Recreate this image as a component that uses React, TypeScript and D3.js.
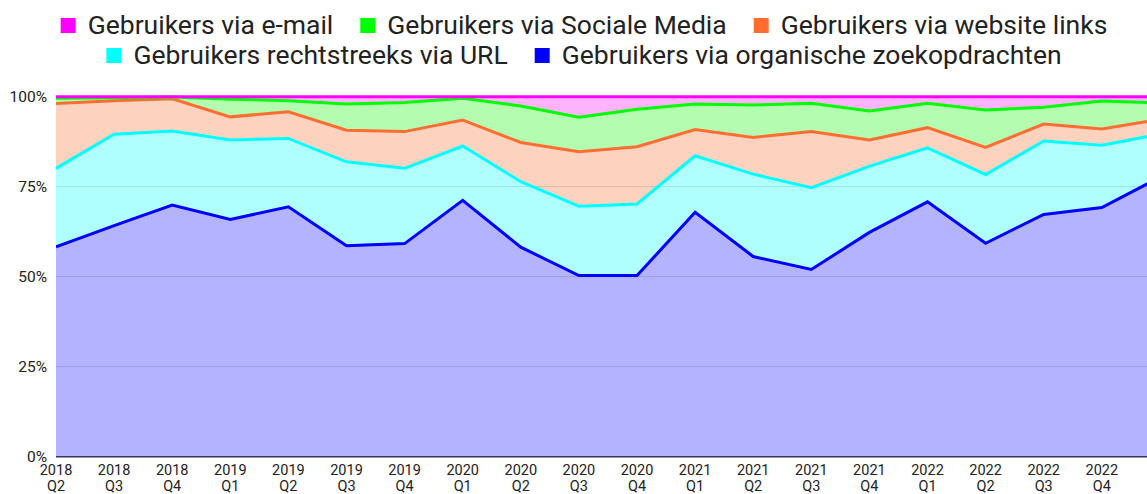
import React, { useEffect, useRef } from "react";
import * as d3 from "d3";

const W = 1147;
const H = 494;

// quarters; the last one lies just past the right edge of the picture
const quarters = [
  "2018 Q2", "2018 Q3", "2018 Q4", "2019 Q1", "2019 Q2", "2019 Q3", "2019 Q4",
  "2020 Q1", "2020 Q2", "2020 Q3", "2020 Q4", "2021 Q1", "2021 Q2", "2021 Q3",
  "2021 Q4", "2022 Q1", "2022 Q2", "2022 Q3", "2022 Q4", "2023 Q1",
];
const tickQuarters = quarters.slice(0, 19);

// share of users per channel (%)
const organic = [58.3, 64.2, 69.9, 65.9, 69.4, 58.6, 59.2, 71.2, 58.2, 50.3, 50.3, 67.9, 55.6, 52.0, 62.3, 70.8, 59.3, 67.3, 69.2, 77.6];
const direct = [21.8, 25.4, 20.6, 22.1, 19.0, 23.3, 20.9, 15.1, 18.2, 19.3, 19.9, 15.7, 22.9, 22.7, 18.4, 15.0, 19.1, 20.4, 17.3, 12.0];
const links = [18.0, 9.3, 8.9, 6.4, 7.4, 8.8, 10.2, 7.2, 10.9, 15.1, 15.9, 7.3, 10.2, 15.6, 7.3, 5.6, 7.5, 4.7, 4.5, 4.1];
const social = [1.5, 0.8, 0.5, 4.9, 3.1, 7.3, 8.1, 6.1, 10.1, 9.6, 10.4, 7.1, 9.0, 7.9, 8.0, 6.8, 10.4, 4.7, 7.8, 4.6];
const email = [0.4, 0.3, 0.1, 0.7, 1.1, 2.0, 1.6, 0.4, 2.6, 5.7, 3.5, 2.0, 2.3, 1.8, 4.0, 1.8, 3.7, 2.9, 1.2, 1.7];

const yTicks = [0, 0.25, 0.5, 0.75, 1];

// bottom to top
const series = [
  { key: "organic", name: "Gebruikers via organische zoekopdrachten", color: "#0000ff", fill: "#b3b3ff", values: organic },
  { key: "direct", name: "Gebruikers rechtstreeks via URL", color: "#00ffff", fill: "#b0ffff", values: direct },
  { key: "links", name: "Gebruikers via website links", color: "#ff6d31", fill: "#fdd3c0", values: links },
  { key: "social", name: "Gebruikers via Sociale Media", color: "#00ff00", fill: "#b4fcb0", values: social },
  { key: "email", name: "Gebruikers via e-mail", color: "#ff00ff", fill: "#ffb3ff", values: email },
];

const legendRows = [
  ["email", "social", "links"],
  ["direct", "organic"],
];

const margin = { left: 56, top: 96.7, bottom: 456.7 };
const step = 58.1;

const drawChart = (el: SVGSVGElement) => {
  const svg = d3.select(el);
  svg.selectAll("*").remove();

  const rows = quarters.map((q, i) => {
    const r: any = { q };
    series.forEach((s) => (r[s.key] = s.values[i]));
    return r;
  });

  const stacked = d3
    .stack()
    .keys(series.map((s) => s.key))
    .offset(d3.stackOffsetExpand)(rows);

  const x = d3
    .scalePoint()
    .domain(quarters)
    .range([margin.left, margin.left + step * (quarters.length - 1)]);
  const y = d3.scaleLinear().domain([0, 1]).range([margin.bottom, margin.top]);

  svg
    .append("defs")
    .append("clipPath")
    .attr("id", "plot-clip")
    .append("rect")
    .attr("x", margin.left)
    .attr("y", 0)
    .attr("width", W - margin.left)
    .attr("height", margin.bottom + 1);

  const plot = svg.append("g").attr("clip-path", "url(#plot-clip)");

  const area = d3
    .area<any>()
    .x((d) => x(d.data.q)!)
    .y0((d) => y(d[0]))
    .y1((d) => y(d[1]));

  plot
    .selectAll("path.area")
    .data(stacked)
    .join("path")
    .attr("class", "area")
    .attr("fill", (_, i) => series[i].fill)
    .attr("d", area);

  // grid lines
  plot
    .selectAll("line.grid")
    .data(yTicks.slice(1, 4))
    .join("line")
    .attr("x1", margin.left)
    .attr("x2", W)
    .attr("y1", (d) => y(d))
    .attr("y2", (d) => y(d))
    .attr("stroke", "rgba(0,0,0,0.13)")
    .attr("stroke-width", 1);

  const line = d3
    .line<any>()
    .x((d) => x(d.data.q)!)
    .y((d) => y(d[1]));

  plot
    .selectAll("path.line")
    .data(stacked)
    .join("path")
    .attr("class", "line")
    .attr("fill", "none")
    .attr("stroke", (_, i) => series[i].color)
    .attr("stroke-width", 3)
    .attr("stroke-linejoin", "miter")
    .attr("d", line);

  // baseline
  svg
    .append("line")
    .attr("x1", margin.left)
    .attr("x2", W)
    .attr("y1", y(0))
    .attr("y2", y(0))
    .attr("stroke", "#34345c")
    .attr("stroke-width", 1.5);

  // y axis labels
  svg
    .append("g")
    .attr("font-family", "Roboto, sans-serif")
    .attr("font-size", 15.5)
    .attr("fill", "#222")
    .attr("text-anchor", "end")
    .selectAll("text")
    .data(yTicks)
    .join("text")
    .attr("x", 47)
    .attr("y", (d) => y(d))
    .attr("dy", "0.34em")
    .text((d) => d3.format(".0%")(d));

  // x axis labels (two lines, each its own text)
  const xg = svg
    .append("g")
    .attr("font-family", "Roboto, sans-serif")
    .attr("font-size", 14.5)
    .attr("fill", "#222")
    .attr("text-anchor", "middle");
  xg.selectAll("text.yr")
    .data(tickQuarters)
    .join("text")
    .attr("class", "yr")
    .attr("x", (d) => x(d)!)
    .attr("y", 475)
    .text((d) => d.split(" ")[0]);
  xg.selectAll("text.qt")
    .data(tickQuarters)
    .join("text")
    .attr("class", "qt")
    .attr("x", (d) => x(d)!)
    .attr("y", 490.5)
    .text((d) => d.split(" ")[1]);

  // legend
  const legend = svg
    .append("g")
    .attr("font-family", "Roboto, sans-serif")
    .attr("font-size", 26.5)
    .attr("fill", "#222");
  const centerX = 584;
  const sq = 15;
  legendRows.forEach((keys, ri) => {
    const baseline = 34 + ri * 30;
    const row = legend.append("g");
    let cx = 0;
    keys.forEach((k) => {
      const s = series.find((d) => d.key === k)!;
      row
        .append("rect")
        .attr("x", cx)
        .attr("y", baseline - 16)
        .attr("width", sq)
        .attr("height", sq)
        .attr("fill", s.color);
      const t = row
        .append("text")
        .attr("x", cx + 27)
        .attr("y", baseline)
        .text(s.name);
      const w = (t.node() as SVGTextElement).getComputedTextLength();
      cx += 27 + w + 27;
    });
    const total = cx - 27;
    row.attr("transform", `translate(${centerX - total / 2},0)`);
  });
};

export default function App() {
  const ref = useRef<SVGSVGElement>(null);

  useEffect(() => {
    document.body.style.margin = "0";
    if (ref.current) drawChart(ref.current);
  }, []);

  return (
    <svg
      ref={ref}
      width={W}
      height={H}
      style={{ display: "block", background: "#fff", overflow: "hidden" }}
    />
  );
}
